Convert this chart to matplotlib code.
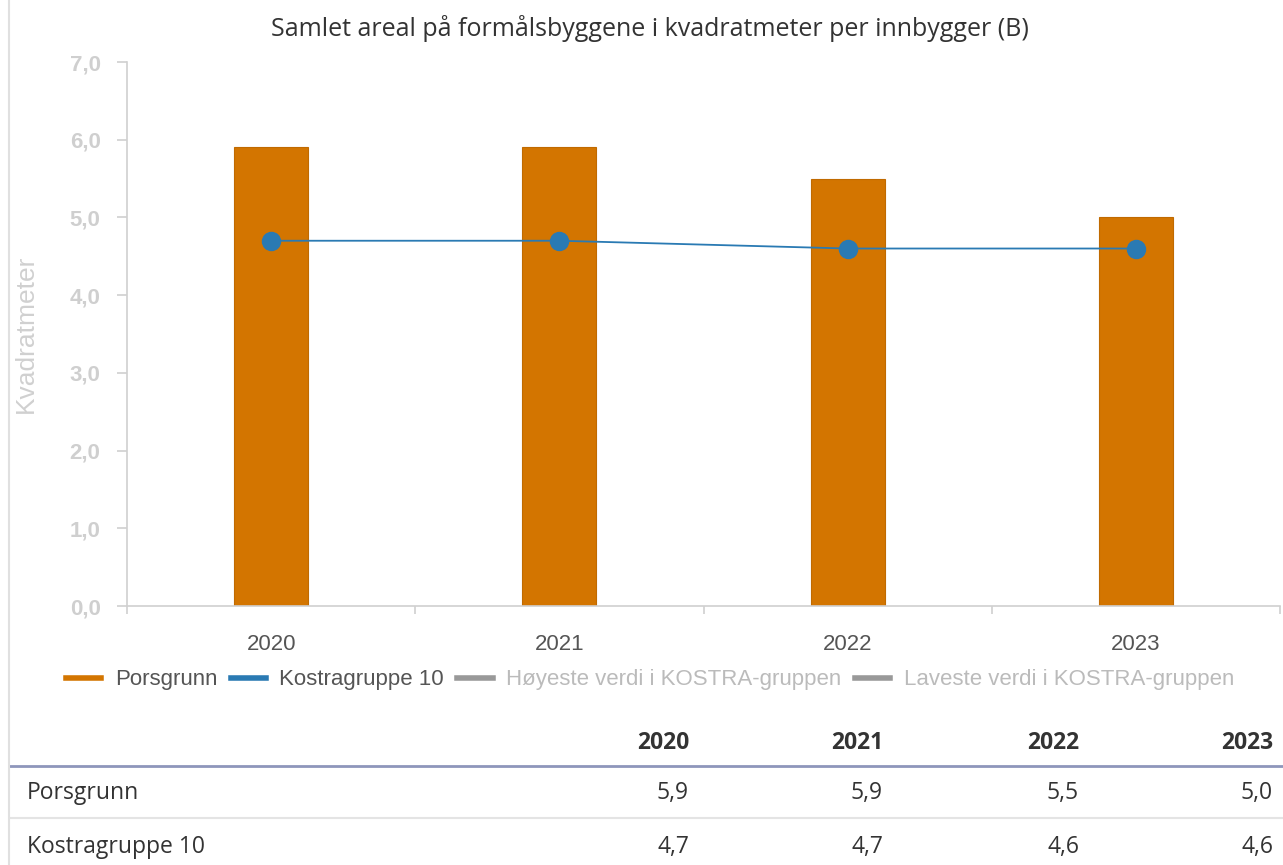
import numpy as np
import matplotlib.pyplot as plt
from matplotlib.lines import Line2D

# data
aar = ['2020', '2021', '2022', '2023']
porsgrunn = [5.9, 5.9, 5.5, 5.0]
kostragruppe = [4.7, 4.7, 4.6, 4.6]
yticks = [0, 1, 2, 3, 4, 5, 6, 7]
serie_navn = ['Porsgrunn', 'Kostragruppe 10',
              'Høyeste verdi i KOSTRA-gruppen', 'Laveste verdi i KOSTRA-gruppen']

ORANSJE = '#d37500'
BLAA = '#2a7ab3'
W, H = 1283, 865


def fx(px):
    return px / W


def fy(py):
    return 1 - py / H


def komma(v):
    return f'{v:.1f}'.replace('.', ',')


fig = plt.figure(figsize=(W / 100, H / 100), dpi=100)
fig.patch.set_facecolor('white')

ax = fig.add_axes([fx(127), fy(606), fx(1280) - fx(127), fy(62) - fy(606)])
x = np.arange(len(aar))
ax.bar(x, porsgrunn, width=0.257, color=ORANSJE, edgecolor='#c06a00', linewidth=0.8, zorder=2)
ax.plot(x, kostragruppe, color=BLAA, linewidth=1.3, marker='o', markersize=13, zorder=3)

ax.set_xlim(-0.5, len(aar) - 0.5)
ax.set_ylim(0, 7)
ax.set_yticks(yticks)
ax.set_yticklabels([komma(v) for v in yticks], fontsize=16, fontweight='bold',
                   color='#cfcfcf', family='Liberation Sans')
ax.set_xticks(x)
ax.set_xticklabels(aar, fontsize=16, color='#555555', family='Liberation Sans')
ax.set_xticks(np.arange(len(aar) + 1) - 0.5, minor=True)
ax.tick_params(axis='x', which='major', length=0, pad=20)
ax.tick_params(axis='x', which='minor', length=6, color='#d0d0d0', width=1.2)
ax.tick_params(axis='y', length=7, color='#d0d0d0', width=1.2, pad=12)
for s in ['top', 'right']:
    ax.spines[s].set_visible(False)
ax.spines['left'].set_color('#d0d0d0')
ax.spines['bottom'].set_color('#d0d0d0')
ax.spines['left'].set_linewidth(1.2)
ax.spines['bottom'].set_linewidth(1.2)
ax.set_ylabel('Kvadratmeter', fontsize=19, color='#d0d0d0', family='Liberation Sans', labelpad=0)
ax.yaxis.set_label_coords((38 - 127) / 1153, 0.5)

fig.text(fx(650), fy(28), 'Samlet areal på formålsbyggene i kvadratmeter per innbygger (B)',
         ha='center', va='center', fontsize=18, color='#333333', family='Open Sans')

# legend
farger = [ORANSJE, BLAA, '#999999', '#999999']
tekstfarger = ['#555555', '#555555', '#bbbbbb', '#bbbbbb']
handles = [Line2D([], [], color=c, linewidth=4) for c in farger]
leg = fig.legend(handles, serie_navn, loc='center', bbox_to_anchor=(fx(650), fy(680)),
                 ncol=4, frameon=False, handlelength=1.6, handletextpad=0.6,
                 columnspacing=0.6, prop={'family': 'Liberation Sans', 'size': 16})
for t, c in zip(leg.get_texts(), tekstfarger):
    t.set_color(c)

# table under the chart
kol_x = [689, 883, 1079, 1273]
for xx, a in zip(kol_x, aar):
    fig.text(fx(xx), fy(743), a, ha='right', va='center', fontsize=16.5,
             fontweight='bold', color='#333333', family='Open Sans')
fig.add_artist(Line2D([fx(10), 1], [fy(766), fy(766)], color='#8e96bb', linewidth=2))
fig.add_artist(Line2D([fx(10), 1], [fy(818), fy(818)], color='#e4e4e4', linewidth=1.5))
for ry, navn, verdier in [(793, serie_navn[0], porsgrunn), (847, serie_navn[1], kostragruppe)]:
    fig.text(fx(27), fy(ry), navn, ha='left', va='center', fontsize=16.5,
             color='#333333', family='Open Sans')
    for xx, v in zip(kol_x, verdier):
        fig.text(fx(xx), fy(ry), komma(v), ha='right', va='center', fontsize=16.5,
                 color='#333333', family='Open Sans')

fig.add_artist(Line2D([fx(9), fx(9)], [0, 1], color='#e0e0e0', linewidth=1.5))

fig.savefig('out.png', dpi=100)
